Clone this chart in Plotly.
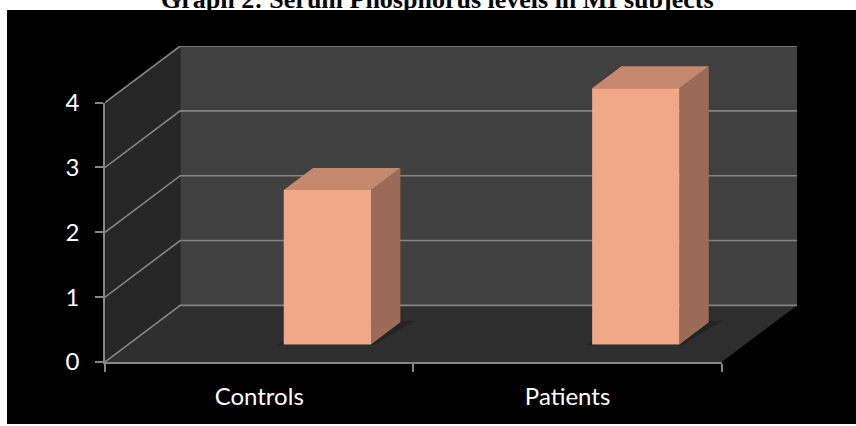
import plotly.graph_objects as go

# ---- data ----
categories = ["Controls", "Patients"]
values = [2.38, 3.95]
y_ticks = [0, 1, 2, 3, 4]
title_text = "Graph 2: Serum Phosphorus levels in MI subjects"

# ---- style / geometry constants ----
W, H = 856, 426
ML, MR, MT, MB = 105, 59, 46, 64
YMAX = 4
DX = 0.2439   # depth offset in x units (full depth)
DY = 0.873    # depth offset in y units (full depth)
NCAT = len(categories)
BAR_X0, BAR_X1 = 0.504, 0.787   # bar position within a category slot
BAR_D0, BAR_D1 = 0.31, 0.70     # bar depth fraction

WALL_BACK = "#404040"
WALL_SIDE = "#262626"
FLOOR = "#2e2e2e"
GRID = "#858585"
FRONT = "#F1A888"
TOP = "#C4896F"
SIDE = "#9B6B57"


def P(x, y, d):
    return x + d * DX, y + d * DY


def poly(pts, color):
    xs = [p[0] for p in pts] + [pts[0][0]]
    ys = [p[1] for p in pts] + [pts[0][1]]
    return go.Scatter(x=xs, y=ys, mode="lines", fill="toself", fillcolor=color,
                      line=dict(width=0, color=color),
                      hoverinfo="skip", showlegend=False)


fig = go.Figure()

# walls and floor
fig.add_trace(poly([P(0, 0, 1), P(NCAT, 0, 1), P(NCAT, YMAX, 1), P(0, YMAX, 1)], WALL_BACK))
fig.add_trace(poly([P(0, 0, 0), P(0, 0, 1), P(0, YMAX, 1), P(0, YMAX, 0)], WALL_SIDE))
fig.add_trace(poly([P(0, 0, 0), P(NCAT, 0, 0), P(NCAT, 0, 1), P(0, 0, 1)], FLOOR))

# gridlines
for v in y_ticks:
    pts = [P(0, v, 0), P(0, v, 1), P(NCAT, v, 1)]
    fig.add_trace(go.Scatter(x=[p[0] for p in pts], y=[p[1] for p in pts], mode="lines",
                             line=dict(color=GRID, width=1.6), hoverinfo="skip", showlegend=False))

# bars
for i, v in enumerate(values):
    x0, x1 = i + BAR_X0, i + BAR_X1
    # soft shadow on floor
    fig.add_trace(poly([P(x0 - 0.02, 0, BAR_D0 - 0.01), P(x1 + 0.01, 0, BAR_D0 - 0.01),
                        P(x1 + 0.04, 0, BAR_D1 + 0.03), P(x0 + 0.02, 0, BAR_D1 + 0.03)],
                       "rgba(0,0,0,0.22)"))
    fig.add_trace(poly([P(x1, 0, BAR_D0), P(x1, 0, BAR_D1), P(x1, v, BAR_D1), P(x1, v, BAR_D0)], SIDE))
    fig.add_trace(poly([P(x0, v, BAR_D0), P(x1, v, BAR_D0), P(x1, v, BAR_D1), P(x0, v, BAR_D1)], TOP))
    fig.add_trace(poly([P(x0, 0, BAR_D0), P(x1, 0, BAR_D0), P(x1, v, BAR_D0), P(x0, v, BAR_D0)], FRONT))

# invisible bars on the front axes to build the category / value axes
fig.add_trace(go.Bar(x=categories, y=values, xaxis="x2", yaxis="y2",
                     marker=dict(color="rgba(0,0,0,0)", line=dict(width=0)),
                     hoverinfo="skip", showlegend=False))

xr = NCAT + DX
yr = YMAX + DY
plot_w = W - ML - MR
plot_h = H - MT - MB

fig.update_layout(
    width=W, height=H,
    margin=dict(l=ML, r=MR, t=MT, b=MB, pad=0),
    paper_bgcolor="white",
    plot_bgcolor="rgba(0,0,0,0)",
    showlegend=False,
    xaxis=dict(range=[0, xr], domain=[0, 1], visible=False, fixedrange=True),
    yaxis=dict(range=[0, yr], domain=[0, 1], visible=False, fixedrange=True),
    xaxis2=dict(type="category", domain=[0, NCAT / xr], anchor="y2", range=[-0.5, NCAT - 0.5],
                showline=True, linecolor=GRID, linewidth=1.6, showgrid=False, zeroline=False,
                ticks="outside", tickson="boundaries", ticklen=8, tickcolor=GRID, tickwidth=1.6,
                tickfont=dict(family="Lato", size=24, color="white"), ticklabelstandoff=12),
    yaxis2=dict(domain=[0, YMAX / yr], anchor="x2", range=[0, YMAX], tickvals=y_ticks,
                showline=True, linecolor=GRID, linewidth=1.6, showgrid=False, zeroline=False,
                ticks="outside", ticklen=8, tickcolor=GRID, tickwidth=1.6,
                tickfont=dict(family="Lato", size=24, color="white"), ticklabelstandoff=11),
    shapes=[dict(type="rect", xref="paper", yref="paper", layer="below",
                 x0=(7 - ML) / plot_w, x1=(W - ML) / plot_w,
                 y0=-(424 - (H - MB)) / plot_h, y1=((H - MB) - 10) / plot_h,
                 fillcolor="black", line=dict(width=0))],
    annotations=[dict(text="<b>" + title_text + "</b>", xref="paper", yref="paper",
                      x=(437 - ML) / plot_w, y=((H - MB) - (-1)) / plot_h,
                      xanchor="center", yanchor="middle", showarrow=False,
                      font=dict(family="Liberation Serif", size=26, color="black"))],
)

fig.write_html("out.html")
